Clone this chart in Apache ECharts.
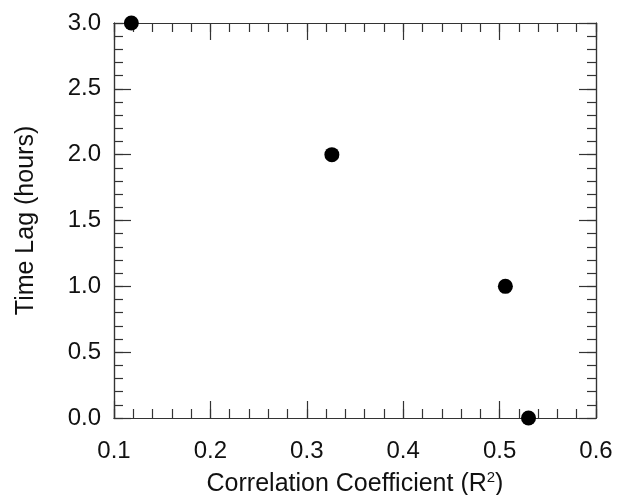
<!DOCTYPE html>
<html><head><meta charset="utf-8">
<script src="https://cdn.jsdelivr.net/npm/echarts@6/dist/echarts.min.js"></script>
<style>html,body{margin:0;padding:0;background:#fff}#c{width:626px;height:495px}</style>
</head><body><div id="c"></div>
<script>
const xValues = [0.118, 0.326, 0.506, 0.530];
const yValues = [3.0, 2.0, 1.0, 0.0];
const xName = 'Correlation Coefficient (R{s|2})';
const yName = 'Time Lag (hours)';

const chart = echarts.init(document.getElementById('c'));
const font = 'Liberation Sans, Arial, sans-serif';
const lineCol = '#333';
const txtCol = '#111';
function ax(opts) {
  return {
    type: 'value',
    min: opts.min, max: opts.max, interval: opts.interval, position: opts.position,
    axisLine: { show: true, onZero: false, lineStyle: { color: lineCol, width: 1.2 } },
    axisTick: { show: true, inside: true, length: opts.tick, lineStyle: { color: lineCol, width: 1.2 } },
    minorTick: { show: false },
    splitLine: { show: false },
    axisLabel: { show: !!opts.label, color: txtCol, fontSize: 24, fontFamily: font, margin: opts.margin || 8,
      formatter: v => v.toFixed(1) }
  };
}
const xb = ax({ min: 0.1, max: 0.6, interval: 0.1, position: 'bottom', tick: 17, label: true, margin: 21 });
Object.assign(xb, { name: xName, nameLocation: 'middle', nameGap: 52,
  nameTextStyle: { color: txtCol, fontSize: 25, fontFamily: font,
    rich: { s: { fontSize: 15, verticalAlign: 'top', padding: [0, 0, 13, 0], color: txtCol, fontFamily: font } } } });
const yl = ax({ min: 0, max: 3, interval: 0.5, position: 'left', tick: 17, label: true, margin: 13 });
Object.assign(yl, { name: yName, nameLocation: 'middle', nameGap: 75,
  nameTextStyle: { color: txtCol, fontSize: 25, fontFamily: font } });

chart.setOption({
  animation: false,
  grid: { left: 114, right: 30, top: 23, bottom: 77, containLabel: false, outerBoundsMode: 'none' },
  xAxis: [
    xb,
    ax({ min: 0.1, max: 0.6, interval: 0.1, position: 'top', tick: 17 }),
    ax({ min: 0.1, max: 0.6, interval: 0.02, position: 'bottom', tick: 9 }),
    ax({ min: 0.1, max: 0.6, interval: 0.02, position: 'top', tick: 9 })
  ],
  yAxis: [
    yl,
    ax({ min: 0, max: 3, interval: 0.5, position: 'right', tick: 17 }),
    ax({ min: 0, max: 3, interval: 0.1, position: 'left', tick: 9 }),
    ax({ min: 0, max: 3, interval: 0.1, position: 'right', tick: 9 })
  ],
  series: [{
    type: 'scatter',
    data: xValues.map((x, i) => [x, yValues[i]]),
    symbolSize: 15,
    clip: false,
    itemStyle: { color: '#000', opacity: 1 }
  }]
});
</script></body></html>
